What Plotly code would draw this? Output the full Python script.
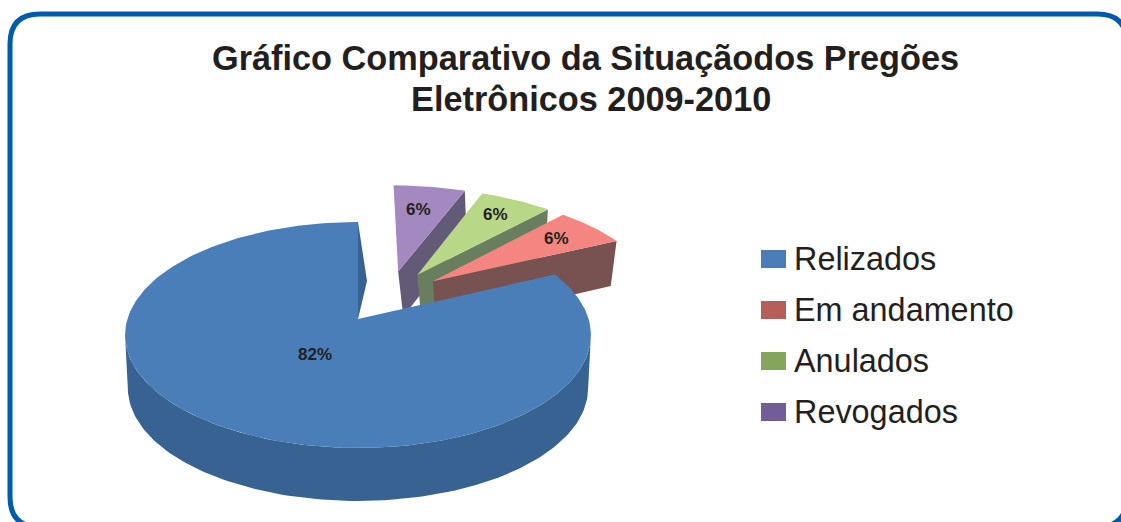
import math
import plotly.graph_objects as go

title_lines = ["Gráfico Comparativo da Situaçãodos Pregões", "Eletrônicos 2009-2010"]
categories = ["Relizados", "Em andamento", "Anulados", "Revogados"]
values = [82, 6, 6, 6]
top_colors = ["#4A7EB8", "#F58580", "#B8D888", "#A389C0"]
side_colors = ["#376292", "#785251", "#697E5E", "#635A78"]
legend_colors = ["#4A7EBB", "#B65E59", "#84A55B", "#715D97"]

TEXT = "#231F20"
W, H = 1121, 522
CX, CY, A, B, K = 358, 319, 110.7, 230.6, 0.1416
SLICE_DX = 1
PULL = 0.25
START = 90.0
DEPTHS = [53, 45, 45, 45]
SLIVER_DEPTH, SLIVER_SHIFT = 59, 9
LEAN, LEAN_X = 0.05, 500
ARC_LEAN, ARC_LEAN_X = 0.012, 357
label_pos = [(315, 354), (556, 238), (495, 214), (418, 209)]
title_pos = [(585.5, 58), (590.5, 99)]


def proj(u, v, dx=0):
    d = 1 + K * v
    return CX + dx + B * u / d, CY - A * v / d


def drop(p, depth, lean=LEAN, lean_x=LEAN_X):
    return p[0] + (lean_x - p[0]) * lean, p[1] + depth


# angular extent of every slice, derived from the values
total = sum(values)
spans, a0 = [], START
for v in values:
    sweep = 360.0 * v / total
    spans.append((a0, a0 + sweep))
    a0 += sweep

mid0 = math.radians(sum(spans[0]) / 2)
cu, cv = -PULL * math.cos(mid0), -PULL * math.sin(mid0)


def apex(i):
    m = math.radians(sum(spans[i]) / 2)
    return cu + PULL * math.cos(m), cv + PULL * math.sin(m)


def rim(i, n, dx=0):
    u0, v0 = apex(i)
    a, b = spans[i]
    out = []
    for j in range(n + 1):
        t = math.radians(a + (b - a) * j / n)
        out.append(proj(u0 + math.cos(t), v0 + math.sin(t), dx))
    return out


def poly(fig, pts, color, name):
    xs = [p[0] for p in pts] + [pts[0][0]]
    ys = [p[1] for p in pts] + [pts[0][1]]
    fig.add_trace(go.Scatter(x=xs, y=ys, mode="lines", fill="toself", fillcolor=color,
                             line=dict(width=0, color=color), name=name,
                             hoverinfo="name", showlegend=False))


fig = go.Figure()

# small slices, far to near
for i in [3, 2, 1]:
    r = rim(i, 24, SLICE_DX)
    ap = proj(*apex(i), SLICE_DX)
    d = DEPTHS[i]
    poly(fig, [ap, r[0], drop(r[0], d), drop(ap, d)], side_colors[i], categories[i])
    poly(fig, [ap] + r, top_colors[i], categories[i])

# large slice: cut face, then the outer wall between its left and right extremes
r = rim(0, 240)
ap = proj(*apex(0))
d = DEPTHS[0]
poly(fig, [ap, r[0], (r[0][0] + SLIVER_SHIFT, r[0][1] + SLIVER_DEPTH)], side_colors[0], categories[0])
i_left = min(range(len(r)), key=lambda j: r[j][0])
i_right = max(range(len(r)), key=lambda j: r[j][0])
front = r[i_left:i_right + 1]
poly(fig, front + [drop(p, d, ARC_LEAN, ARC_LEAN_X) for p in reversed(front)], side_colors[0], categories[0])
poly(fig, [ap] + r, top_colors[0], categories[0])

annotations = []
for i, (x, y) in enumerate(label_pos):
    annotations.append(dict(x=x, y=y, xref="x", yref="y", text=f"<b>{values[i]}%</b>", showarrow=False,
                            font=dict(family="Liberation Sans", size=17, color=TEXT)))
for line, (x, y) in zip(title_lines, title_pos):
    annotations.append(dict(x=x, y=y, xref="x", yref="y", text=f"<b>{line}</b>", showarrow=False,
                            font=dict(family="Liberation Sans", size=34.3, color=TEXT)))

shapes = [dict(type="path", xref="x", yref="y", line=dict(color="#005BAA", width=5),
               path="M 10 497 L 10 44 Q 10 14 40 14 L 1097 14 Q 1127 14 1127 44 L 1127 497 "
                    "Q 1127 527 1097 527 L 40 527 Q 10 527 10 497 Z")]
for i, (name, color) in enumerate(zip(categories, legend_colors)):
    y = 259 + 51 * i
    shapes.append(dict(type="rect", xref="x", yref="y", x0=761, x1=786, y0=y - 9, y1=y + 9,
                       fillcolor=color, line=dict(width=0)))
    annotations.append(dict(x=792, y=y, xref="x", yref="y", text=name, showarrow=False, xanchor="left",
                            font=dict(family="Liberation Sans", size=32.4, color=TEXT)))

fig.update_layout(
    width=W, height=H, margin=dict(l=0, r=0, t=0, b=0), showlegend=False,
    paper_bgcolor="white", plot_bgcolor="white", shapes=shapes, annotations=annotations,
    xaxis=dict(range=[0, W], visible=False, fixedrange=True),
    yaxis=dict(range=[H, 0], visible=False, fixedrange=True),
)
fig.write_html("out.html", config={"displayModeBar": False},
               post_script="document.body.style.margin='0';document.body.style.overflow='hidden';")
